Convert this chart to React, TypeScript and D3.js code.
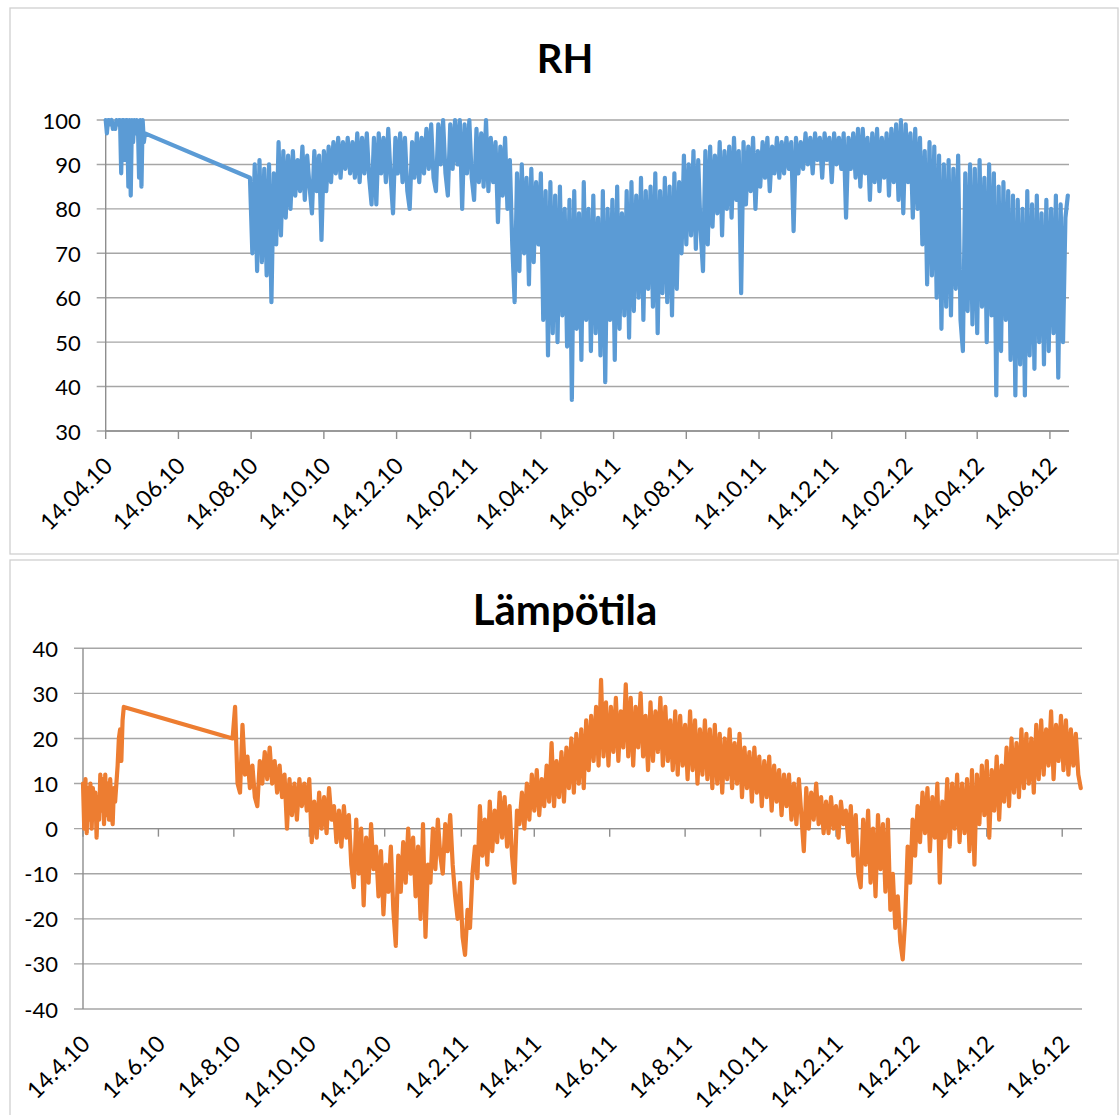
import React from "react";
import * as d3 from "d3";

// ---------- data ----------
const tickDates = [
  "2010-04-14", "2010-06-14", "2010-08-14", "2010-10-14", "2010-12-14",
  "2011-02-14", "2011-04-14", "2011-06-14", "2011-08-14", "2011-10-14",
  "2011-12-14", "2012-02-14", "2012-04-14", "2012-06-14",
];
const rhTickLabels = [
  "14.04.10", "14.06.10", "14.08.10", "14.10.10", "14.12.10", "14.02.11", "14.04.11",
  "14.06.11", "14.08.11", "14.10.11", "14.12.11", "14.02.12", "14.04.12", "14.06.12",
];
const tempTickLabels = [
  "14.4.10", "14.6.10", "14.8.10", "14.10.10", "14.12.10", "14.2.11", "14.4.11",
  "14.6.11", "14.8.11", "14.10.11", "14.12.11", "14.2.12", "14.4.12", "14.6.12",
];
const xDomainDates = ["2010-04-14", "2012-06-30"];
const rhYTicks = [30, 40, 50, 60, 70, 80, 90, 100];
const tempYTicks = [-40, -30, -20, -10, 0, 10, 20, 30, 40];

// spring 2010 segment: daily readings from 14.4.2010
const springStart = "2010-04-14";
const springStep = 1;
const rhSpring = [
  100, 97, 100, 100, 99, 100, 98, 99, 98, 100, 99, 100, 100, 88, 100, 100, 91,
  100, 100, 85, 100, 83, 100, 95, 100, 97, 100, 99, 87, 100, 85, 100, 95, 97,
];
const tempSpring = [
  10, 0, 11, -1, 9, 2, 10, 0, 9, 3, 8, -2, 7, 2, 12, 4, 11,
  1, 12, 3, 10, 2, 11, 4, 1, 9, 6, 10, 14, 20, 22, 15, 24, 27,
];

// main segment: readings every 2 days from 13.8.2010
const mainStart = "2010-08-13";
const mainStep = 2;
const rhMain = [
  87, 70, 90, 66, 91, 68, 89, 65, 90, 59, 88, 72, 95, 74, 93, 78,
  92, 80, 93, 83, 91, 84, 94, 82, 92, 85, 79, 93, 84, 92, 73, 93,
  84, 94, 86, 95, 88, 96, 87, 95, 89, 96, 88, 95, 87, 97, 86, 96,
  88, 97, 87, 81, 96, 81, 97, 88, 96, 86, 98, 87, 79, 96, 88, 97,
  86, 96, 84, 80, 95, 87, 97, 86, 96, 88, 98, 89, 99, 87, 84, 99,
  90, 100, 88, 83, 99, 89, 100, 90, 100, 80, 99, 88, 100, 87, 82, 98,
  86, 97, 85, 100, 84, 96, 86, 95, 77, 94, 83, 96, 80, 91, 72, 59,
  88, 66, 90, 70, 87, 63, 89, 68, 86, 72, 88, 55, 84, 47, 86, 52,
  83, 50, 85, 56, 80, 49, 82, 37, 84, 53, 79, 46, 86, 55, 80, 48,
  83, 52, 78, 47, 84, 41, 80, 55, 82, 46, 85, 53, 79, 56, 84, 51,
  86, 57, 83, 60, 87, 55, 84, 62, 85, 58, 88, 52, 84, 61, 87, 59,
  85, 56, 88, 62, 86, 70, 92, 72, 90, 74, 93, 71, 91, 75, 66, 93,
  72, 94, 76, 92, 79, 95, 74, 93, 80, 94, 78, 96, 82, 93, 61, 95,
  81, 94, 84, 96, 80, 93, 85, 95, 87, 96, 84, 94, 88, 96, 87, 95,
  88, 96, 89, 95, 75, 96, 88, 95, 89, 97, 90, 96, 88, 97, 91, 96,
  87, 97, 91, 96, 86, 97, 90, 96, 89, 97, 78, 96, 89, 97, 87, 98,
  85, 98, 88, 96, 82, 97, 86, 98, 84, 96, 87, 97, 83, 98, 86, 99,
  82, 100, 79, 99, 86, 97, 78, 98, 80, 96, 72, 93, 63, 95, 65, 94,
  60, 92, 53, 90, 58, 91, 56, 89, 62, 92, 55, 48, 88, 57, 90, 54,
  89, 52, 91, 58, 87, 50, 90, 56, 88, 38, 85, 48, 86, 55, 84, 46,
  83, 38, 82, 45, 80, 38, 84, 47, 81, 44, 83, 50, 79, 45, 82, 48,
  80, 52, 83, 42, 81, 50, 78, 83,
];
const tempMain = [
  20, 27, 10, 8, 23, 12, 16, 9, 14, 7, 5, 15, 10, 17, 11, 18,
  10, 15, 8, 14, 7, 12, 0, 11, 3, 10, 2, 11, 5, 10, 4, 11,
  -3, 6, -2, 8, 0, 7, -1, 9, 2, 5, -3, 4, -4, 5, -2, 3,
  -8, -13, 2, -10, 0, -17, -2, -12, 1, -9, -4, -15, -5, -19, -8, -14,
  -4, -18, -26, -6, -14, -3, -12, 0, -10, -2, -15, -4, -20, 1, -24, -8,
  -12, 0, -9, 2, -6, -10, 1, -5, 3, -8, -15, -20, -12, -24, -28, -18,
  -22, -10, -4, -11, 5, -6, 2, -8, 6, -5, 4, -3, 8, -2, 7, -4,
  5, -6, -12, 4, 1, 8, 0, 10, 2, 12, 4, 13, 3, 11, 5, 14,
  6, 19, 5, 15, 7, 17, 6, 18, 9, 20, 8, 21, 10, 22, 9, 24,
  13, 25, 15, 27, 14, 33, 16, 28, 14, 27, 17, 29, 15, 26, 18, 32,
  16, 29, 14, 27, 18, 30, 16, 25, 13, 28, 15, 26, 17, 29, 14, 27,
  15, 24, 13, 26, 12, 25, 14, 23, 11, 26, 13, 24, 10, 22, 12, 24,
  11, 22, 9, 23, 10, 21, 8, 20, 11, 22, 9, 19, 10, 21, 7, 18,
  9, 17, 6, 18, 8, 16, 5, 15, 7, 16, 4, 14, 6, 13, 3, 12,
  5, 12, 2, 10, 1, 11, 3, -5, 9, 0, 8, 2, 10, 1, 7, -1,
  6, -1, 7, 0, 5, -2, 6, 1, 4, -3, 5, -6, 3, -10, -13, 2,
  -8, 4, -12, 0, -15, 3, -9, 1, -14, 2, -18, -10, -22, -15, -25, -29,
  -20, -4, -12, 2, -6, 5, -3, 8, -1, 9, -5, 7, -2, 10, -12, 6,
  -2, 11, -4, 10, 0, 12, -3, 10, -1, 11, -5, 13, -8, 12, 1, 14,
  3, 15, -2, 13, 4, 16, 2, 14, 6, 18, 5, 20, 8, 19, 7, 22,
  9, 21, 10, 20, 8, 23, 11, 24, 12, 22, 14, 26, 11, 23, 15, 25,
  13, 24, 12, 22, 14, 21, 12, 9,
];

// ---------- helpers ----------
const parse = d3.timeParse("%Y-%m-%d");
type Pt = { date: Date; value: number };
function buildSeries(start: string, step: number, values: number[]): Pt[] {
  const s = parse(start) as Date;
  return values.map((v, i) => ({ date: d3.timeDay.offset(s, i * step), value: v }));
}

const FONT = "Lato, 'Open Sans', sans-serif";
const GRID = "#A6A6A6";
const AXIS = "#8E8E8E";

type PanelProps = {
  frame: { x: number; y: number; w: number; h: number };
  plot: { left: number; right: number; top: number; bottom: number };
  yDomain: [number, number];
  yTicks: number[];
  title: string;
  titleY: number;
  titleSize: number;
  color: string;
  data: Pt[];
  tickLabels: string[];
  crossAt: number;
};

function Panel(p: PanelProps) {
  const x = d3
    .scaleTime()
    .domain(xDomainDates.map((d) => parse(d) as Date))
    .range([p.plot.left, p.plot.right]);
  const y = d3.scaleLinear().domain(p.yDomain).range([p.plot.bottom, p.plot.top]);
  const line = d3
    .line<Pt>()
    .x((d) => x(d.date))
    .y((d) => y(d.value));
  const axisY = y(p.crossAt);
  const ticks = tickDates.map((d) => parse(d) as Date);
  return (
    <g>
      <rect
        x={p.frame.x}
        y={p.frame.y}
        width={p.frame.w}
        height={p.frame.h}
        fill="#fff"
        stroke="#D0D0D0"
        strokeWidth={1.3}
      />
      <text
        x={565}
        y={p.titleY}
        textAnchor="middle"
        fontFamily={FONT}
        fontWeight={700}
        fontSize={p.titleSize}
        fill="#000"
      >
        {p.title}
      </text>
      {p.yTicks.map((t) => (
        <g key={t}>
          <line
            x1={p.plot.left - 9}
            x2={p.plot.right}
            y1={y(t)}
            y2={y(t)}
            stroke={GRID}
            strokeWidth={1.4}
          />
          <text
            x={p.plot.left - 25}
            y={y(t)}
            textAnchor="end"
            dominantBaseline="central"
            fontFamily={FONT}
            fontSize={22}
            fill="#000"
          >
            {t}
          </text>
        </g>
      ))}
      <line
        x1={p.plot.left}
        x2={p.plot.left}
        y1={p.plot.top}
        y2={p.plot.bottom}
        stroke={AXIS}
        strokeWidth={1.4}
      />
      <line
        x1={p.plot.left}
        x2={p.plot.right}
        y1={axisY}
        y2={axisY}
        stroke={AXIS}
        strokeWidth={1.4}
      />
      {ticks.map((t, i) => (
        <g key={i}>
          <line x1={x(t)} x2={x(t)} y1={axisY} y2={axisY + 8} stroke={AXIS} strokeWidth={1.4} />
          <text
            transform={`translate(${x(t) + 2},${p.plot.bottom + 30}) rotate(-45)`}
            textAnchor="end"
            dominantBaseline="central"
            fontFamily={FONT}
            fontSize={23}
            fill="#000"
          >
            {p.tickLabels[i]}
          </text>
        </g>
      ))}
      <path
        d={line(p.data) || ""}
        fill="none"
        stroke={p.color}
        strokeWidth={4.2}
        strokeLinejoin="round"
        strokeLinecap="round"
      />
    </g>
  );
}

export default function App() {
  const rhData = [
    ...buildSeries(springStart, springStep, rhSpring),
    ...buildSeries(mainStart, mainStep, rhMain),
  ];
  const tempData = [
    ...buildSeries(springStart, springStep, tempSpring),
    ...buildSeries(mainStart, mainStep, tempMain),
  ];
  return (
    <svg
      width={1120}
      height={1115}
      style={{ position: "absolute", left: 0, top: 0, background: "#fff" }}
    >
      <Panel
        frame={{ x: 10, y: 8, w: 1108, h: 546 }}
        plot={{ left: 105.7, right: 1069, top: 120, bottom: 431 }}
        yDomain={[30, 100]}
        yTicks={rhYTicks}
        title="RH"
        titleY={73}
        titleSize={40}
        color="#5B9BD5"
        data={rhData}
        tickLabels={rhTickLabels}
        crossAt={30}
      />
      <Panel
        frame={{ x: 10, y: 560, w: 1108, h: 570 }}
        plot={{ left: 83, right: 1082, top: 648.3, bottom: 1009 }}
        yDomain={[-40, 40]}
        yTicks={tempYTicks}
        title="Lämpötila"
        titleY={625}
        titleSize={42}
        color="#ED7D31"
        data={tempData}
        tickLabels={tempTickLabels}
        crossAt={0}
      />
    </svg>
  );
}
